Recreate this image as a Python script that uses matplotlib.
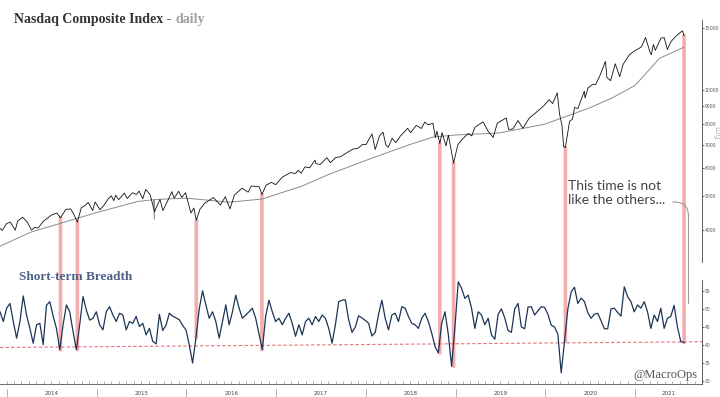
import matplotlib
matplotlib.use('Agg')
import matplotlib.pyplot as plt
import matplotlib.dates as mdates
import matplotlib.transforms as mtrans
from matplotlib.patches import ConnectionPatch
from matplotlib.ticker import NullLocator, FixedLocator, FixedFormatter
import numpy as np
import pandas as pd

# ---------------- data ----------------
price_dates = [
    '2013-12-04', '2013-12-13', '2013-12-31', '2014-01-15', '2014-02-04', '2014-02-14', '2014-03-06',
    '2014-03-24', '2014-04-11', '2014-04-25', '2014-05-08', '2014-05-30', '2014-06-13', '2014-06-30',
    '2014-07-24', '2014-08-07', '2014-08-29', '2014-09-18', '2014-10-01', '2014-10-15', '2014-10-31',
    '2014-11-14', '2014-11-28', '2014-12-16', '2014-12-26', '2015-01-15', '2015-01-29', '2015-02-17',
    '2015-03-02', '2015-03-12', '2015-03-20', '2015-04-01', '2015-04-24', '2015-05-06', '2015-05-27',
    '2015-06-12', '2015-06-23', '2015-07-08', '2015-07-20', '2015-08-07', '2015-08-24', '2015-08-25',
    '2015-09-01', '2015-09-16', '2015-09-28', '2015-10-22', '2015-11-03', '2015-11-13', '2015-12-01',
    '2015-12-14', '2015-12-29', '2016-01-12', '2016-01-20', '2016-02-01', '2016-02-11', '2016-02-26',
    '2016-03-17', '2016-04-20', '2016-05-19', '2016-06-08', '2016-06-27', '2016-07-15', '2016-08-15',
    '2016-09-09', '2016-09-22', '2016-10-24', '2016-11-04', '2016-11-21', '2016-12-13', '2016-12-30',
    '2017-01-26', '2017-02-28', '2017-03-21', '2017-03-31', '2017-04-13', '2017-04-28', '2017-05-17',
    '2017-06-08', '2017-06-12', '2017-06-29', '2017-07-26', '2017-08-10', '2017-08-31', '2017-09-19',
    '2017-10-11', '2017-11-08', '2017-11-29', '2017-12-18', '2018-01-02', '2018-01-26', '2018-02-08',
    '2018-02-26', '2018-03-12', '2018-03-23', '2018-04-02', '2018-04-18', '2018-05-03', '2018-05-21',
    '2018-06-20', '2018-07-02', '2018-07-25', '2018-08-15', '2018-08-29', '2018-09-11', '2018-10-01',
    '2018-10-11', '2018-10-17', '2018-10-29', '2018-11-07', '2018-11-23', '2018-12-03', '2018-12-24',
    '2019-01-10', '2019-01-31', '2019-02-22', '2019-03-08', '2019-03-21', '2019-04-23', '2019-05-13',
    '2019-06-03', '2019-06-20', '2019-07-26', '2019-08-05', '2019-08-23', '2019-09-12', '2019-10-02',
    '2019-10-28', '2019-11-26', '2019-12-26', '2020-01-17', '2020-01-31', '2020-02-19', '2020-02-28',
    '2020-03-09', '2020-03-16', '2020-03-23', '2020-04-09', '2020-04-21', '2020-04-29', '2020-05-13',
    '2020-06-08', '2020-06-11', '2020-06-23', '2020-07-13', '2020-07-24', '2020-08-10', '2020-09-02',
    '2020-09-08', '2020-09-23', '2020-10-12', '2020-10-30', '2020-11-13', '2020-12-08', '2020-12-28',
    '2021-01-12', '2021-01-27', '2021-02-12', '2021-03-04', '2021-03-08', '2021-03-16', '2021-03-24',
    '2021-04-16', '2021-04-29', '2021-05-12', '2021-05-27', '2021-06-14', '2021-06-30', '2021-07-12',
    '2021-07-19',
]
price_values = [
    4045, 3990, 4177, 4215, 3997, 4244, 4352,
    4226, 3999, 4075, 4051, 4243, 4310, 4408,
    4473, 4335, 4580, 4593, 4423, 4216, 4631,
    4688, 4792, 4547, 4807, 4571, 4683, 4900,
    5008, 4849, 5026, 4880, 5092, 4920, 5106,
    5051, 5160, 4910, 5219, 5044, 4526, 4506,
    4636, 4889, 4543, 4920, 5142, 4927, 5156,
    4952, 5107, 4685, 4472, 4620, 4266, 4590,
    4774, 4948, 4712, 4974, 4594, 5030, 5262,
    5126, 5339, 5309, 5046, 5368, 5464, 5383,
    5656, 5825, 5794, 5912, 5805, 6048, 6011,
    6321, 6175, 6144, 6422, 6216, 6429, 6461,
    6604, 6789, 6824, 7000, 7006, 7505, 6777,
    7421, 7588, 6993, 6870, 7295, 7088, 7394,
    7781, 7567, 7932, 7775, 8109, 7972, 8037,
    7329, 7642, 7050, 7570, 6939, 7442, 6193,
    6986, 7282, 7527, 7408, 7838, 8120, 7647,
    7333, 8051, 8330, 7726, 7751, 8194, 7785,
    8325, 8647, 9022, 9389, 9151, 9817, 8567,
    7950, 6905, 6861, 8153, 8263, 8915, 8863,
    9925, 9493, 10131, 10390, 10363, 10968, 12056,
    10848, 10633, 11876, 10911, 11829, 12582, 12900,
    13072, 13271, 14095, 12723, 12609, 13471, 12961,
    14052, 14082, 13032, 13736, 14174, 14504, 14733,
    14275,
]

ma_dates = ['2013-12-04', '2014-04-10', '2014-08-07', '2014-12-15', '2015-06-15', '2015-08-21',
            '2015-08-24', '2015-08-25', '2015-12-31', '2016-06-24', '2016-11-04', '2017-04-15',
            '2017-08-01', '2017-12-29', '2018-06-29', '2018-10-01', '2018-12-31', '2019-06-28',
            '2019-12-31', '2020-06-30', '2020-09-30', '2020-12-31', '2021-04-10', '2021-07-19']
ma_values = [3600, 3950, 4180, 4450, 4820, 4880,
             4290, 4885, 4930, 4800, 4900, 5330,
             5750, 6300, 7000, 7350, 7450, 7550,
             8000, 8900, 9500, 10300, 12300, 13240]

breadth_start = '2013-12-04'
breadth_end = '2021-07-19'
breadth_values = [
    49.2, 46.5, 50.2, 51.5, 46.5, 41.9, 46.5, 53.6, 48.3, 44.6,
    40.5, 45.6, 46.0, 40.1, 51.0, 52.0, 48.0, 44.6, 38.7, 45.6,
    51.1, 49.2, 43.7, 38.7, 45.6, 53.4, 49.7, 46.9, 47.4, 49.2,
    45.6, 44.2, 49.2, 50.6, 48.3, 46.5, 48.8, 48.3, 44.2, 46.5,
    46.0, 47.9, 45.1, 46.0, 42.8, 44.6, 41.0, 40.3, 48.5, 44.0,
    45.5, 48.8, 48.0, 47.5, 47.0, 45.4, 44.2, 40.0, 35.0, 42.0,
    50.0, 55.0, 51.1, 47.4, 49.2, 46.5, 41.9, 46.5, 51.1, 45.6,
    49.2, 53.8,
    50.2, 47.4, 48.3, 49.2, 50.2, 47.4, 43.0, 38.7, 48.0, 52.4,
    49.2, 46.5, 47.4, 45.6, 47.4, 48.8, 46.0, 42.4, 45.6, 42.8,
    46.5, 47.4, 45.6, 47.9, 46.5, 48.3, 47.4, 44.6, 40.5, 45.6,
    52.0, 52.4, 52.5, 47.0, 43.5, 45.0, 48.1, 47.5, 46.8, 46.0,
    42.5, 43.5, 48.5, 52.4, 47.4, 44.2, 48.3, 48.8, 46.5, 50.6,
    50.2, 47.9, 46.0, 45.6, 44.6, 47.4, 48.8, 46.5, 43.3, 39.6,
    37.8, 46.0, 49.2, 43.0, 34.1, 45.0, 57.5, 55.7, 52.9, 53.8,
    50.2, 44.6,
    49.2, 48.3, 45.6, 47.4, 42.8, 41.6, 48.5, 50.0, 47.5, 44.0,
    43.5, 50.0, 51.5, 45.0, 44.5, 50.5, 50.6, 48.3, 49.5, 50.6,
    50.4, 48.5, 45.5, 45.0, 43.0, 32.3, 41.0, 50.0, 54.7, 56.0,
    51.5, 53.0, 52.0, 49.0, 47.4, 48.5, 48.8, 46.7, 44.5, 44.5,
    50.0, 50.2, 49.0, 48.0, 56.1, 53.4, 52.0, 49.2, 51.1, 50.2,
    52.0, 49.2, 44.6, 48.3, 46.5, 50.2, 44.6, 47.4, 47.9, 51.0,
    45.0, 41.0, 40.7,
]

event_dates = ['2014-08-07', '2014-10-15', '2016-02-11', '2016-11-04',
               '2018-10-29', '2018-12-24', '2020-03-23', '2021-07-19']

trend_dates = ['2013-12-04', '2021-09-30']
trend_values = [39.3, 40.9]

price_ticks = [4000, 5000, 6000, 7000, 8000, 9000, 10000, 15000]
breadth_ticks = [30, 35, 40, 45, 50, 55]
years = [2014, 2015, 2016, 2017, 2018, 2019, 2020, 2021]

x_start, x_end = '2013-12-04', '2021-09-30'

# ---------------- figure ----------------
W, H = 720, 397
fig = plt.figure(figsize=(W / 100, H / 100), dpi=100)
fig.patch.set_facecolor('white')

def px_rect(x0, y0, x1, y1):
    return [x0 / W, 1 - y1 / H, (x1 - x0) / W, (y1 - y0) / H]

ax1 = fig.add_axes(px_rect(0, 20, 702, 262))
ax2 = fig.add_axes(px_rect(0, 280, 702, 384))
xlo = mdates.date2num(pd.Timestamp(x_start))
xhi = mdates.date2num(pd.Timestamp(x_end))
for ax in (ax1, ax2):
    ax.set_facecolor('none')

pdates = mdates.date2num(pd.to_datetime(price_dates))
mdts = mdates.date2num(pd.to_datetime(ma_dates))
bdates = mdates.date2num(pd.date_range(breadth_start, breadth_end, periods=len(breadth_values)))

tick_kw = dict(labelsize=3.3, labelcolor='#555555', length=1.5, width=0.5,
               pad=0.6, color='#333333')

# top panel
ax1.plot(mdts, ma_values, color='#8c8c8c', lw=0.7, zorder=2)
ax1.plot(pdates, price_values, color='#111111', lw=0.6, zorder=3)
ax1.set_yscale('log')
ax1.set_ylim(3246, 15810)
ax1.yaxis.set_major_locator(FixedLocator(price_ticks))
ax1.yaxis.set_major_formatter(FixedFormatter([str(t) for t in price_ticks]))
ax1.yaxis.set_minor_locator(NullLocator())
ax1.yaxis.tick_right()
ax1.set_xticks([])
for s in ('left', 'top', 'bottom'):
    ax1.spines[s].set_visible(False)
ax1.spines['right'].set_color('#444444')
ax1.spines['right'].set_linewidth(0.6)
ax1.tick_params(axis='y', **tick_kw)

# bottom panel
ax2.plot(bdates, breadth_values, color='#1c3557', lw=0.9, zorder=3)
ax2.plot(mdates.date2num(pd.to_datetime(trend_dates)), trend_values, color='#e8707a', lw=0.8,
         ls=(0, (3, 2)), zorder=2)
ax2.set_ylim(29.2, 58.0)
ax2.set_yticks(breadth_ticks)
ax2.yaxis.tick_right()
for s in ('left', 'top'):
    ax2.spines[s].set_visible(False)
ax2.spines['right'].set_color('#444444')
ax2.spines['right'].set_linewidth(0.6)
ax2.spines['bottom'].set_color('#555555')
ax2.spines['bottom'].set_linewidth(0.6)
ax2.tick_params(axis='y', **tick_kw)
ax2.set_xticks([])
ax2.xaxis.set_minor_locator(mdates.MonthLocator())
ax2.tick_params(axis='x', which='minor', direction='in', length=2, width=0.4, color='#777777')

for ax in (ax1, ax2):
    ax.set_xlim(xlo, xhi)

# year separators and labels under the axis
blend = mtrans.blended_transform_factory(ax2.transData, ax2.transAxes)
for y in years:
    d0 = mdates.date2num(pd.Timestamp(f'{y}-01-01'))
    d1 = min(mdates.date2num(pd.Timestamp(f'{y + 1}-01-01')), xhi)
    ax2.plot([d0, d0], [-0.045, -0.13], transform=blend, clip_on=False,
             color='#aaaaaa', lw=0.6)
    ax2.text((d0 + d1) / 2, -0.087, str(y), transform=blend, ha='center', va='center',
             fontsize=4.0, color='#444444')

# red connecting lines
bvals = np.array(breadth_values)
for ev in event_dates:
    tn = float(mdates.date2num(pd.Timestamp(ev)))
    top = float(np.interp(tn, pdates, price_values))
    win = np.abs(bdates - tn) <= 10
    bot = float(bvals[win].min() if win.any() else np.interp(tn, bdates, bvals))
    cp = ConnectionPatch(xyA=(tn, top), coordsA=ax1.transData,
                         xyB=(tn, bot), coordsB=ax2.transData,
                         color='#f4a3a3', lw=2.6, alpha=0.9, zorder=-1)
    fig.add_artist(cp)

# texts
serif = ['Liberation Serif', 'DejaVu Serif']
fig.text(14 / W, 1 - 19 / H, 'Nasdaq Composite Index - ', fontsize=10, fontweight='bold',
         family=serif, color='#333333', va='center', ha='left')
fig.text(175 / W, 1 - 19 / H, 'daily', fontsize=10, fontweight='bold',
         family=serif, color='#a0a0a0', va='center', ha='left')
fig.text(19 / W, 1 - 277 / H, 'Short-term Breadth', fontsize=9.5, fontweight='bold',
         family=serif, color='#4d5f85', va='center', ha='left')
fig.text(698 / W, 1 - 375 / H, '@MacroOps', fontsize=9, family=serif,
         color='#555555', va='center', ha='right')
fig.text(716.5 / W, 1 - 133 / H, 'Log', fontsize=5.5, rotation=270, color='#b8b8b8',
         va='center', ha='center')

fig.text(568 / W, 1 - 193 / H, 'This time is not\nlike the others...', fontsize=10,
         family=['Lato', 'DejaVu Sans'], color='#444444', va='center', ha='left',
         linespacing=1.25)

# curved pointer from the annotation down to the last signal
ax2.annotate('', xy=(float(mdates.date2num(pd.Timestamp('2021-08-06'))), 51.5), xycoords='data',
             xytext=(673, H - 202), textcoords='figure pixels',
             arrowprops=dict(arrowstyle='-', color='#9a9a9a', lw=0.8,
                             connectionstyle='angle,angleA=0,angleB=90,rad=14',
                             shrinkA=0, shrinkB=0),
             annotation_clip=False)

fig.savefig('out.png', dpi=100, facecolor='white')
